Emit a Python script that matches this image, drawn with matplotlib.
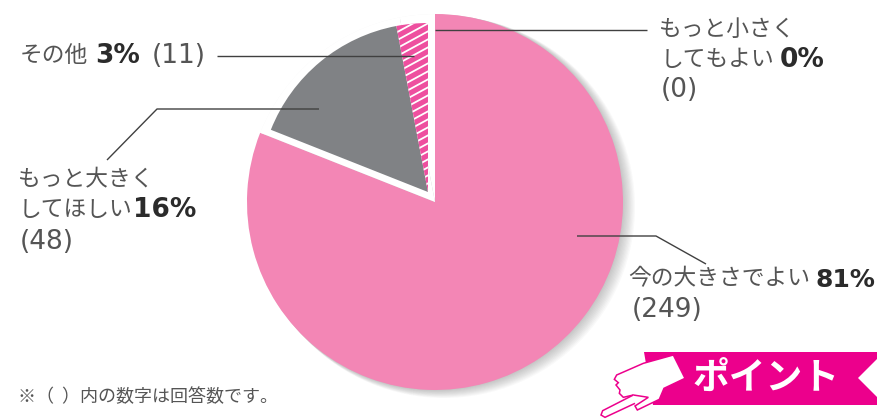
#!/usr/bin/env python3
"""Pie chart of answers about size, with callout labels and a POINT banner."""

import matplotlib
matplotlib.use('Agg')
import matplotlib.pyplot as plt
from matplotlib.patches import Circle, Polygon

plt.rcParams['font.family'] = ['Noto Sans CJK JP', 'DejaVu Sans']

# Answers: share in percent and number of responses
shares = [81, 16, 3]
counts = [249, 48, 11]
empty_share = 0
empty_count = 0
note = '※（  ）内の数字は回答数です。'
banner_text = 'ポイント'

PINK = '#f386b5'
GREY = '#808285'
HATCH = '#ee4f9f'
MAGENTA = '#ec008c'
TEXT = '#555555'
LINE = '#404040'

W, H = 878, 419
CENTER = (435, 202)
RADIUS = 188
SLICE_CENTER = (428, 192)
SLICE_RADIUS = 169

fig = plt.figure(figsize=(W / 100, H / 100), dpi=100)
ax = fig.add_axes([0, 0, 1, 1])

# soft shadow to the lower right of the pie
for step in range(0, 11):
    ax.add_patch(Circle((CENTER[0] + step * 0.9, CENTER[1] + step * 0.5), RADIUS + step * 0.3,
                        color='#555555', alpha=0.035, lw=0, zorder=1))

# y axis runs downward here, so the pie starts at -90 and runs counterclockwise
ax.pie(shares, colors=[PINK, 'white', 'white'], center=CENTER, radius=RADIUS,
       startangle=-90, counterclock=True, wedgeprops=dict(lw=0, zorder=2))
wedges, _ = ax.pie(shares, colors=['none', GREY, HATCH], center=SLICE_CENTER,
                   radius=SLICE_RADIUS, startangle=-90, counterclock=True,
                   wedgeprops=dict(lw=0, zorder=3))

# white diagonal stripes inside the smallest slice
for y0 in range(20, 215, 8):
    stripe, = ax.plot([390, 436], [y0, y0 - 25], color='white', lw=1.3, zorder=4)
    stripe.set_clip_path(wedges[2])

# leader lines
leaders = [
    ([217, 414], [56, 56]),
    ([107, 157, 319], [160, 109, 109]),
    ([435, 647], [30.5, 30.5]),
    ([577, 656, 706], [236, 236, 264]),
]
for xs, ys in leaders:
    ax.plot(xs, ys, color=LINE, lw=1.0, zorder=5, solid_capstyle='butt')


def label(x, y, s):
    ax.text(x, y, s, fontsize=16.4, color=TEXT, va='center', ha='left', zorder=6)


def percent(x, y, s, size=19):
    ax.text(x, y, s, fontsize=size, fontweight='bold', family='DejaVu Sans',
            color='#2b2b2b', va='center', ha='left', zorder=6)


def count(x, y, s):
    ax.text(x, y, s, fontsize=19, family='DejaVu Sans', color=TEXT,
            va='center', ha='left', zorder=6)


label(20, 55, 'その他')
percent(95, 56, f'{shares[2]}%')
count(152, 56, f'({counts[2]})')

label(18, 179, 'もっと大きく')
label(19, 209, 'してほしい')
percent(133, 210, f'{shares[1]}%')
count(20, 242, f'({counts[1]})')

label(659, 29, 'もっと小さく')
label(661, 59, 'してもよい')
percent(780, 60, f'{empty_share}%')
count(661, 90, f'({empty_count})')

label(628, 279, '今の大きさでよい')
percent(816, 280, f'{shares[0]}%', size=18)
count(632, 310, f'({counts[0]})')

ax.text(18, 397, note, fontsize=13, color=TEXT, va='center', ha='left')

# banner with notched right end
ax.add_patch(Polygon([(644, 352), (878, 352), (878, 358), (858, 378), (878, 398),
                      (878, 405), (653, 405)], closed=True, fc=MAGENTA, ec='none', zorder=7))
ax.text(766, 378, banner_text, fontsize=26.5, fontweight='bold', color='white',
        ha='center', va='center', zorder=8)


def hand_pts(pts):
    return [(590 + x / 3, 340 + y / 3) for x, y in pts]


# pointing hand
hand = [(160, 70), (250, 45), (285, 115), (222, 145), (208, 178), (142, 210), (135, 198),
        (175, 172), (130, 165), (100, 172), (88, 160), (90, 150), (78, 135), (85, 128),
        (73, 118), (80, 105)]
finger = [(130, 165), (38, 212), (33, 225), (45, 232), (135, 190)]
ax.add_patch(Polygon(hand_pts(hand), closed=True, fc='white', ec=MAGENTA, lw=1.1, zorder=9))
ax.add_patch(Polygon(hand_pts(finger), closed=False, fc='white', ec=MAGENTA, lw=1.1, zorder=10))

ax.set_xlim(0, W)
ax.set_ylim(H, 0)
ax.set_aspect('equal')
ax.axis('off')

fig.savefig('out.png', dpi=100, facecolor='white')
